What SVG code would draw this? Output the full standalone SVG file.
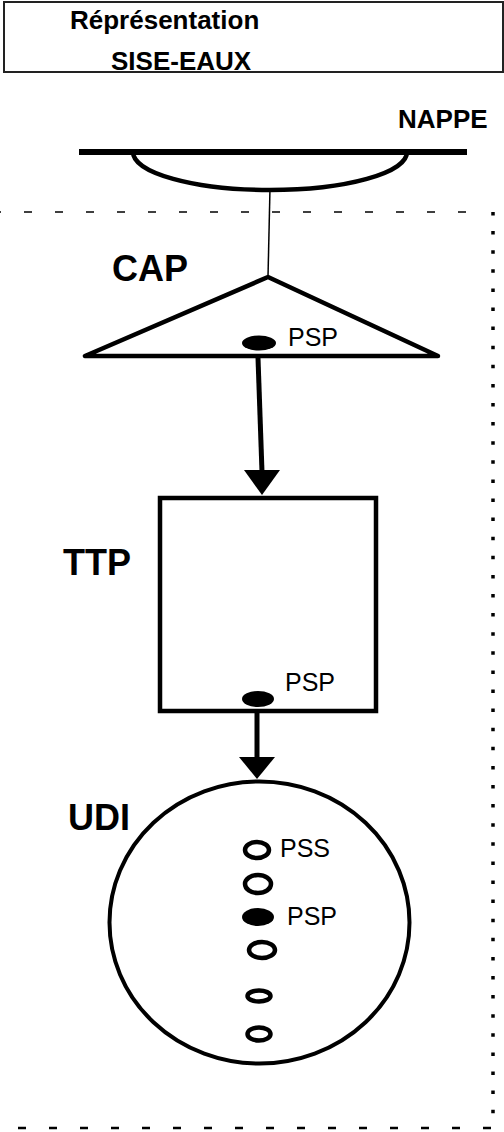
<svg xmlns="http://www.w3.org/2000/svg" width="504" height="1132" viewBox="0 0 504 1132">
<style>
.t{font-family:"Liberation Sans",Arial,sans-serif;fill:#000}
.b{font-weight:bold}
.s{fill:none;stroke:#000}
</style>
<rect width="504" height="1132" fill="#fff"/>
<g id="title">
<rect x="4" y="2" width="499" height="70" fill="none" stroke="#222" stroke-width="2"/>
<text class="t b" x="70" y="29" font-size="26">Réprésentation</text>
<text class="t b" x="111" y="70" font-size="26">SISE-EAUX</text>
</g>
<g id="boundary">
<line x1="-7" y1="212" x2="467" y2="212" stroke="#000" stroke-width="1.3" stroke-dasharray="8 23"/>
<line x1="18" y1="1128" x2="493" y2="1128" stroke="#000" stroke-width="2.5" stroke-dasharray="8 23"/>
<line x1="493" y1="212" x2="493" y2="1115" stroke="#000" stroke-width="3.5" stroke-dasharray="3.5 15.6"/>
</g>
<g id="nappe">
<line x1="79" y1="152" x2="467" y2="152" stroke="#000" stroke-width="6"/>
<path class="s" d="M133,152 A137,38 0 0 0 407,152" stroke-width="4.5"/>
<text class="t b" x="398" y="128" font-size="26">NAPPE</text>
</g>
<g id="cap">
<polygon class="s" points="268,277 85,356 438,356" stroke-width="4.5" stroke-linejoin="round"/>
<ellipse cx="259" cy="343" rx="17" ry="7.5" fill="#000"/>
<text class="t" x="288" y="346" font-size="25">PSP</text>
<text class="t b" x="112" y="281" font-size="36">CAP</text>
</g>
<g id="ttp">
<rect class="s" x="160" y="498" width="216" height="213" stroke-width="4.5"/>
<ellipse cx="258" cy="699" rx="16" ry="8" fill="#000"/>
<text class="t" x="285" y="691" font-size="25">PSP</text>
<text class="t b" x="63" y="575" font-size="36">TTP</text>
</g>
<g id="udi">
<ellipse class="s" cx="259.5" cy="922.5" rx="150" ry="141" stroke-width="4"/>
<ellipse class="s" cx="257" cy="850" rx="12" ry="8" stroke-width="4.5"/>
<ellipse class="s" cx="258" cy="884" rx="13" ry="9" stroke-width="4.5"/>
<ellipse cx="258" cy="917" rx="16" ry="9" fill="#000"/>
<ellipse class="s" cx="262" cy="950" rx="13" ry="8" stroke-width="4.5"/>
<ellipse class="s" cx="259" cy="996" rx="11.5" ry="5.5" stroke-width="4.5"/>
<ellipse class="s" cx="259" cy="1034" rx="11.5" ry="6.5" stroke-width="4.5"/>
<text class="t" x="280" y="857" font-size="25">PSS</text>
<text class="t" x="287" y="925" font-size="25">PSP</text>
<text class="t b" x="68" y="830" font-size="36">UDI</text>
</g>
<g id="connectors">
<line x1="270" y1="188" x2="268" y2="277" stroke="#000" stroke-width="1.5"/>
<line x1="258" y1="358" x2="262" y2="472" stroke="#000" stroke-width="5"/>
<polygon points="244,470 280,470 262,495" fill="#000"/>
<line x1="257" y1="711" x2="257" y2="758" stroke="#000" stroke-width="5"/>
<polygon points="239,757 275,757 257,779" fill="#000"/>
</g>
</svg>
